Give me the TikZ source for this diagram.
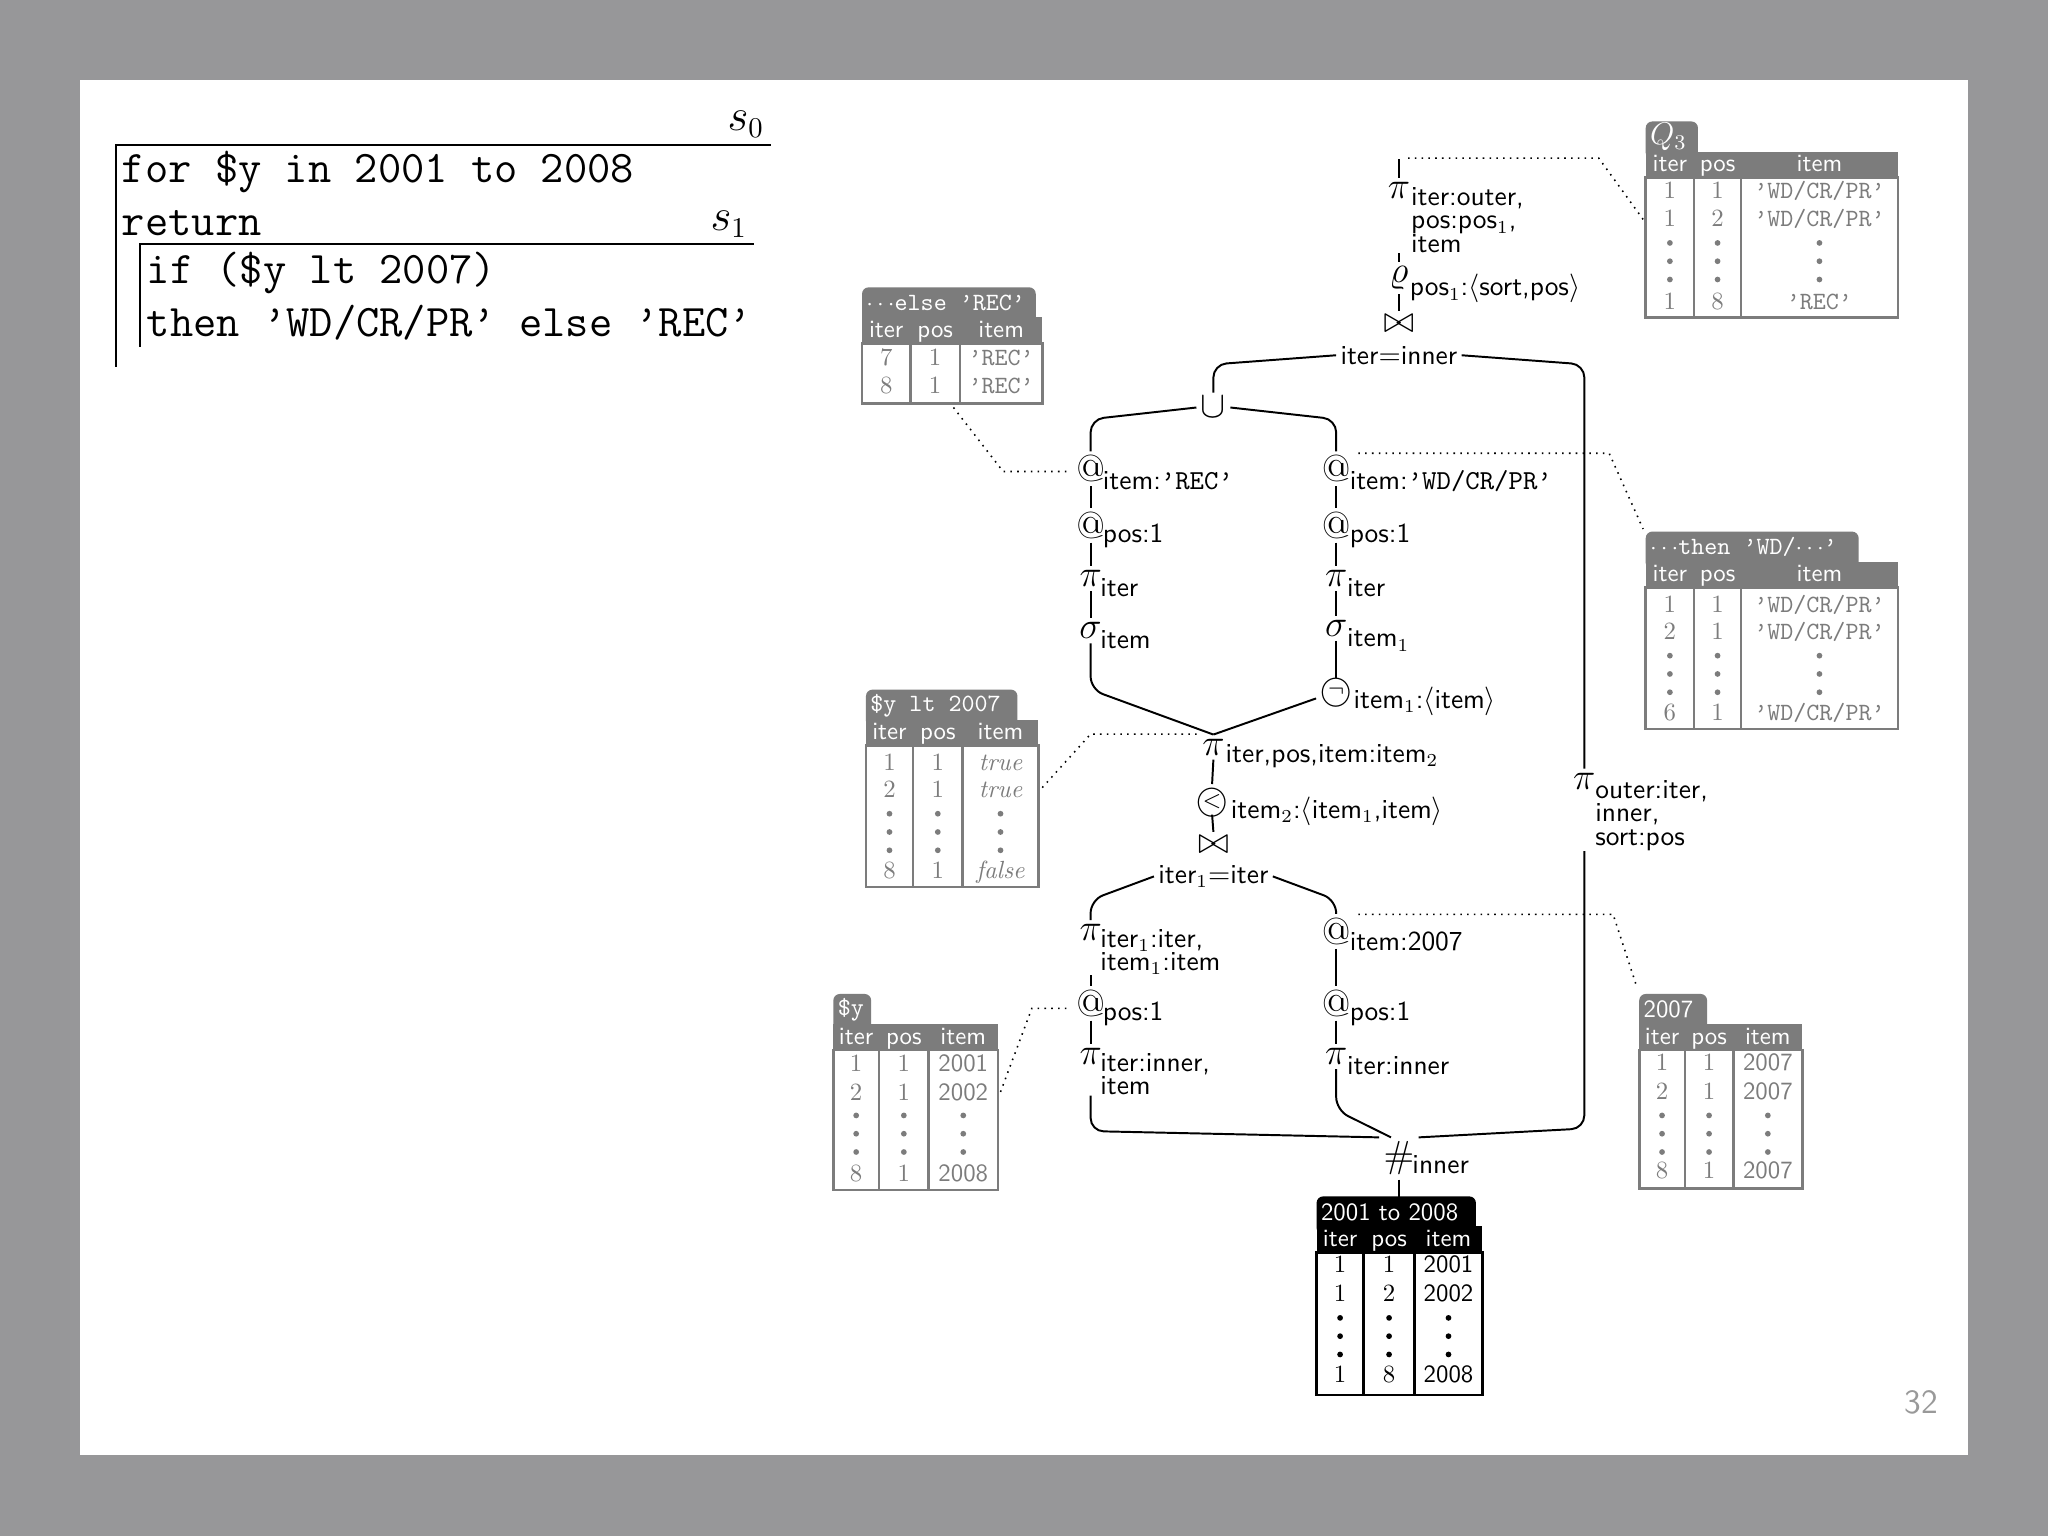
\documentclass[tikz,border=0pt]{standalone}
\usepackage{amssymb}
\usetikzlibrary{calc}
\definecolor{hdr}{HTML}{7C7C7C}
\definecolor{bg}{HTML}{979799}
\newcommand\tframe[9]{%
 \gdef\tX{#1}\gdef\tY{#2}\gdef\tA{#4}\gdef\tB{#5}\gdef\tW{#6}\gdef\tC{#9}%
 \fill[#9,rounded corners=2.5pt] (#1,#2+6) -- (#1,#2-23) -- (#1+#3,#2-23) -- (#1+#3,#2+6) -- cycle;
 \fill[#9] (#1,#2) rectangle (#1+#6,#2+20);
 \node[anchor=west,text=white,inner sep=0,font=\ttlab] at (#1+3,#2-11) {#8};
 \node[thd] at (#1+#4/2,#2+10) {iter};
 \node[thd] at (#1+#4/2+#5/2,#2+10) {pos};
 \node[thd] at (#1+#5/2+#6/2,#2+10) {item};
 \draw[#9,line width=1pt] (#1,#2+20) rectangle (#1+#6,#2+20+#7);
 \draw[#9,line width=1pt] (#1+#4,#2+20) -- (#1+#4,#2+20+#7) (#1+#5,#2+20) -- (#1+#5,#2+20+#7);
}
\newcommand\cells[4]{%
 \node[tcell,text=\tC] at (\tX+\tA/2,\tY+#1) {#2};
 \node[tcell,text=\tC] at (\tX+\tA/2+\tB/2,\tY+#1) {#3};
 \node[tcell,text=\tC] at (\tX+\tB/2+\tW/2,\tY+#1) {#4};}
\newcommand\vdt[1]{%
 \foreach \dy in {0,14,28}{%
  \fill[\tC] (\tX+\tA/2,\tY+#1+\dy) circle (1.1pt);
  \fill[\tC] (\tX+\tA/2+\tB/2,\tY+#1+\dy) circle (1.1pt);
  \fill[\tC] (\tX+\tB/2+\tW/2,\tY+#1+\dy) circle (1.1pt);}}
\newcommand\ttlab{\fontsize{9.5}{10}\selectfont}
\newcommand\circneg{{\fontsize{13}{13}\selectfont\ooalign{$\bigcirc$\cr\hidewidth\raisebox{1.5pt}{$\scriptstyle\neg$}\hidewidth\cr}}}
\newcommand\circlt{{\fontsize{13}{13}\selectfont\ooalign{$\bigcirc$\cr\hidewidth\raisebox{1pt}{$\scriptstyle<$}\hidewidth\cr}}}
\begin{document}
\begin{tikzpicture}[x=0.5pt,y=-0.5pt,
 sym/.style={inner sep=1.5pt,font=\fontsize{14}{14}\selectfont},
 csym/.style={inner sep=0pt},
 sub/.style={anchor=west,inner sep=0,font=\sffamily\fontsize{10.5}{9}\selectfont},
 subm/.style={anchor=north west,inner sep=0,align=left,font=\sffamily\fontsize{10.5}{9}\selectfont},
 lab/.style={inner sep=1.5pt,font=\sffamily\fontsize{10.5}{12}\selectfont},
 thd/.style={inner sep=0,text height=1.6ex,text depth=0.35ex,text=white,font=\sffamily\fontsize{9.5}{10}\selectfont},
 tcell/.style={inner sep=0,text height=1.6ex,text depth=0.3ex,font=\fontsize{9.5}{10}\selectfont},
 con/.style={line width=0.75pt,rounded corners=5pt},
 lead/.style={dotted,line width=0.6pt},
 code/.style={anchor=west,inner sep=0,font=\ttfamily\fontsize{17.3}{17}\selectfont}]
\useasboundingbox (0,0) rectangle (1568,1176);
\fill[bg] (0,0) rectangle (1568,1176);
\fill[white] (61,61) rectangle (1507,1114);
\node[text=gray!80,font=\sffamily\fontsize{13}{13}\selectfont] (pg) at (1471,1074) {32};
% code
\draw[line width=0.8pt] (590,111) -- (89,111) -- (89,281);
\draw[line width=0.8pt] (577,187) -- (107,187) -- (107,266);
\node[font=\fontsize{16}{16}\selectfont] (s0) at (571,95) {$s_0$};
\node[font=\fontsize{16}{16}\selectfont] (s1) at (558,172) {$s_1$};
\node[code] (l1) at (93,132) {for \$y in 2001 to 2008};
\node[code] (l2) at (93,171) {return};
\node[code] (l3) at (112,209) {if (\$y lt 2007)};
\node[code] (l4) at (112,247) {then ’WD/CR/PR’ else ’REC’};
% top chain
\coordinate (top) at (1071,122);
\node[sym] (p1) at (1071,146) {$\pi$};
\node[subm] (p1l) at (1080,143) {iter:outer,\\pos:pos$_1$,\\item};
\node[sym] (r1) at (1071,213) {$\varrho$};
\node[sub] (r1l) at (1079,221) {pos$_1$:$\langle$sort,pos$\rangle$};
\node[sym] (j1) at (1071,248) {$\bowtie$};
\node[lab] (e1) at (1071,272) {iter$=$inner};
\draw[con] (top) -- (p1.north);
\draw[con] (p1l.south -| p1.center) -- (r1.north);
\draw[con] (r1.south) -- (j1.north);
\node[sym] (u) at (929,312) {$\cup$};
\draw[con] (e1.west) -- (929,279) -- (u.north);
% left branch
\node[sym] (a1) at (835,359) {$@$};
\node[sub] (a1l) at (844,368) {item:\texttt{’REC’}};
\node[sym] (a2) at (835,402) {$@$};
\node[sub] (a2l) at (844,410) {pos:1};
\node[sym] (a3) at (835,443) {$\pi$};
\node[sub] (a3l) at (842,450) {iter};
\node[sym] (a4) at (835,483) {$\sigma$};
\node[sub] (a4l) at (842,490) {item};
% right branch
\node[sym] (b1) at (1023,359) {$@$};
\node[sub] (b1l) at (1033,368) {item:\texttt{’WD/CR/PR’}};
\node[sym] (b2) at (1023,402) {$@$};
\node[sub] (b2l) at (1033,410) {pos:1};
\node[sym] (b3) at (1023,443) {$\pi$};
\node[sub] (b3l) at (1031,450) {iter};
\node[sym] (b4) at (1023,481) {$\sigma$};
\node[sub] (b4l) at (1031,490) {item$_1$};
\node[csym] (b5) at (1023,528) {\circneg};
\node[sub] (b5l) at (1036,537) {item$_1$:$\langle$item$\rangle$};
\draw[con] (u.west) -- (835,321) -- (a1.north);
\draw[con] (u.east) -- (1023,321) -- (b1.north);
\draw[con] (a1.south) -- (a2.north); \draw[con] (a2.south) -- (a3.north); \draw[con] (a3.south) -- (a4.north);
\draw[con] (b1.south) -- (b2.north); \draw[con] (b2.south) -- (b3.north); \draw[con] (b3.south) -- (b4.north); \draw[con] (b4.south) -- (b5.north);
\node[sym] (m) at (929,572) {$\pi$};
\node[sub] (ml) at (938,579) {iter,pos,item:item$_2$};
\draw[con] (a4.south) -- (835,528) -- (m.north);
\draw[con] ($(b5.south west)+(-3,-2)$) -- (m.north);
\node[csym] (n) at (928,612) {\circlt};
\node[sub] (nl) at (942,621) {item$_2$:$\langle$item$_1$,item$\rangle$};
\node[sym] (j2) at (929,647) {$\bowtie$};
\node[lab] (e2) at (929,671) {iter$_1$$=$iter};
\draw[con] (m.south) -- ($(n.north)+(0,-3)$); \draw[con] ($(n.south)+(0,3)$) -- (j2.north);
% lower left
\node[sym] (c1) at (835,714) {$\pi$};
\node[subm] (c1l) at (842,711) {iter$_1$:iter,\\item$_1$:item};
\node[sym] (c2) at (835,768) {$@$};
\node[sub] (c2l) at (844,776) {pos:1};
\node[sym] (c3) at (835,809) {$\pi$};
\node[subm] (c3l) at (842,806) {iter:inner,\\item};
\draw[con] (e2.west) -- (835,689) -- (c1.north);
\draw[con] (c1l.south -| c1.center) -- (c2.north);
\draw[con] (c2.south) -- (c3.north);
% lower right
\node[sym] (d1) at (1023,713) {$@$};
\node[sub] (d1l) at (1033,721) {item:2007};
\node[sym] (d2) at (1023,768) {$@$};
\node[sub] (d2l) at (1033,776) {pos:1};
\node[sym] (d3) at (1023,809) {$\pi$};
\node[sub] (d3l) at (1031,816) {iter:inner};
\draw[con] (e2.east) -- (1023,689) -- (d1.north);
\draw[con] (d1.south) -- (d2.north); \draw[con] (d2.south) -- (d3.north);
% far right
\node[sym] (po) at (1213,598) {$\pi$};
\node[subm] (pol) at (1221,597) {outer:iter,\\inner,\\sort:pos};
\draw[con] (e1.east) -- (1213,279) -- (po.north);
% hash
\node[sym] (h) at (1071,887) {$\#$};
\node[sub] (hl) at (1081,892) {inner};
\draw[con] (c3l.south -| c3.center) -- (835,866) -- (h.north west);
\draw[con] (d3.south) -- (1023,850) -- ($(h.north)+(-6,0)$);
\draw[con] (pol.south -| po.center) -- (1213,864) -- (h.north east);
\coordinate (bt) at (1071,918);
\draw[con] (h.south) -- (bt);
% tables
\tframe{1260}{116}{40}{37}{73}{193}{107}{\normalfont\fontsize{12}{12}\selectfont$Q_3$}{hdr}
\cells{30}{1}{1}{\ttfamily ’WD/CR/PR’}
\cells{52}{1}{2}{\ttfamily ’WD/CR/PR’}
\vdt{70}
\cells{115}{1}{8}{\ttfamily ’REC’}
\tframe{660}{243}{133}{37}{75}{138}{46}{\ttfamily$\cdots$else ’REC’}{hdr}
\cells{31}{7}{1}{\ttfamily ’REC’}
\cells{53}{8}{1}{\ttfamily ’REC’}
\tframe{1260}{430}{163}{37}{73}{193}{108}{\ttfamily$\cdots$then ’WD/$\cdots$’}{hdr}
\cells{33}{1}{1}{\ttfamily ’WD/CR/PR’}
\cells{54}{2}{1}{\ttfamily ’WD/CR/PR’}
\vdt{72}
\cells{116}{6}{1}{\ttfamily ’WD/CR/PR’}
\tframe{663}{551}{116}{36}{74}{132}{108}{\ttfamily\$y lt 2007}{hdr}
\cells{33}{1}{1}{\itshape true}
\cells{54}{2}{1}{\itshape true}
\vdt{72}
\cells{116}{8}{1}{\itshape false}
\tframe{638}{784}{29}{35}{73}{126}{107}{\ttfamily\$y}{hdr}
\cells{31}{1}{1}{\sffamily 2001}
\cells{53}{2}{1}{\sffamily 2002}
\vdt{70}
\cells{115}{8}{1}{\sffamily 2008}
\tframe{1255}{784}{52}{35}{72}{125}{106}{\sffamily 2007}{hdr}
\cells{30}{1}{1}{\sffamily 2007}
\cells{52}{2}{1}{\sffamily 2007}
\vdt{70}
\cells{113}{8}{1}{\sffamily 2007}
\tframe{1008}{939}{122}{36}{75}{127}{109}{\sffamily 2001 to 2008}{black}
\cells{30}{1}{1}{\sffamily 2001}
\cells{52}{1}{2}{\sffamily 2002}
\vdt{70}
\cells{114}{1}{8}{\sffamily 2008}
% dotted leaders
\draw[lead] (1078,121) -- (1224,121) -- (1258,168);
\draw[lead] (730,312) -- (768,361) -- (820,361);
\draw[lead] (1040,347) -- (1232,347) -- (1258,405);
\draw[lead] (798,603) -- (835,562) -- (918,562);
\draw[lead] (766,836) -- (790,772) -- (820,772);
\draw[lead] (1040,700) -- (1235,700) -- (1253,755);
\end{tikzpicture}
\end{document}
